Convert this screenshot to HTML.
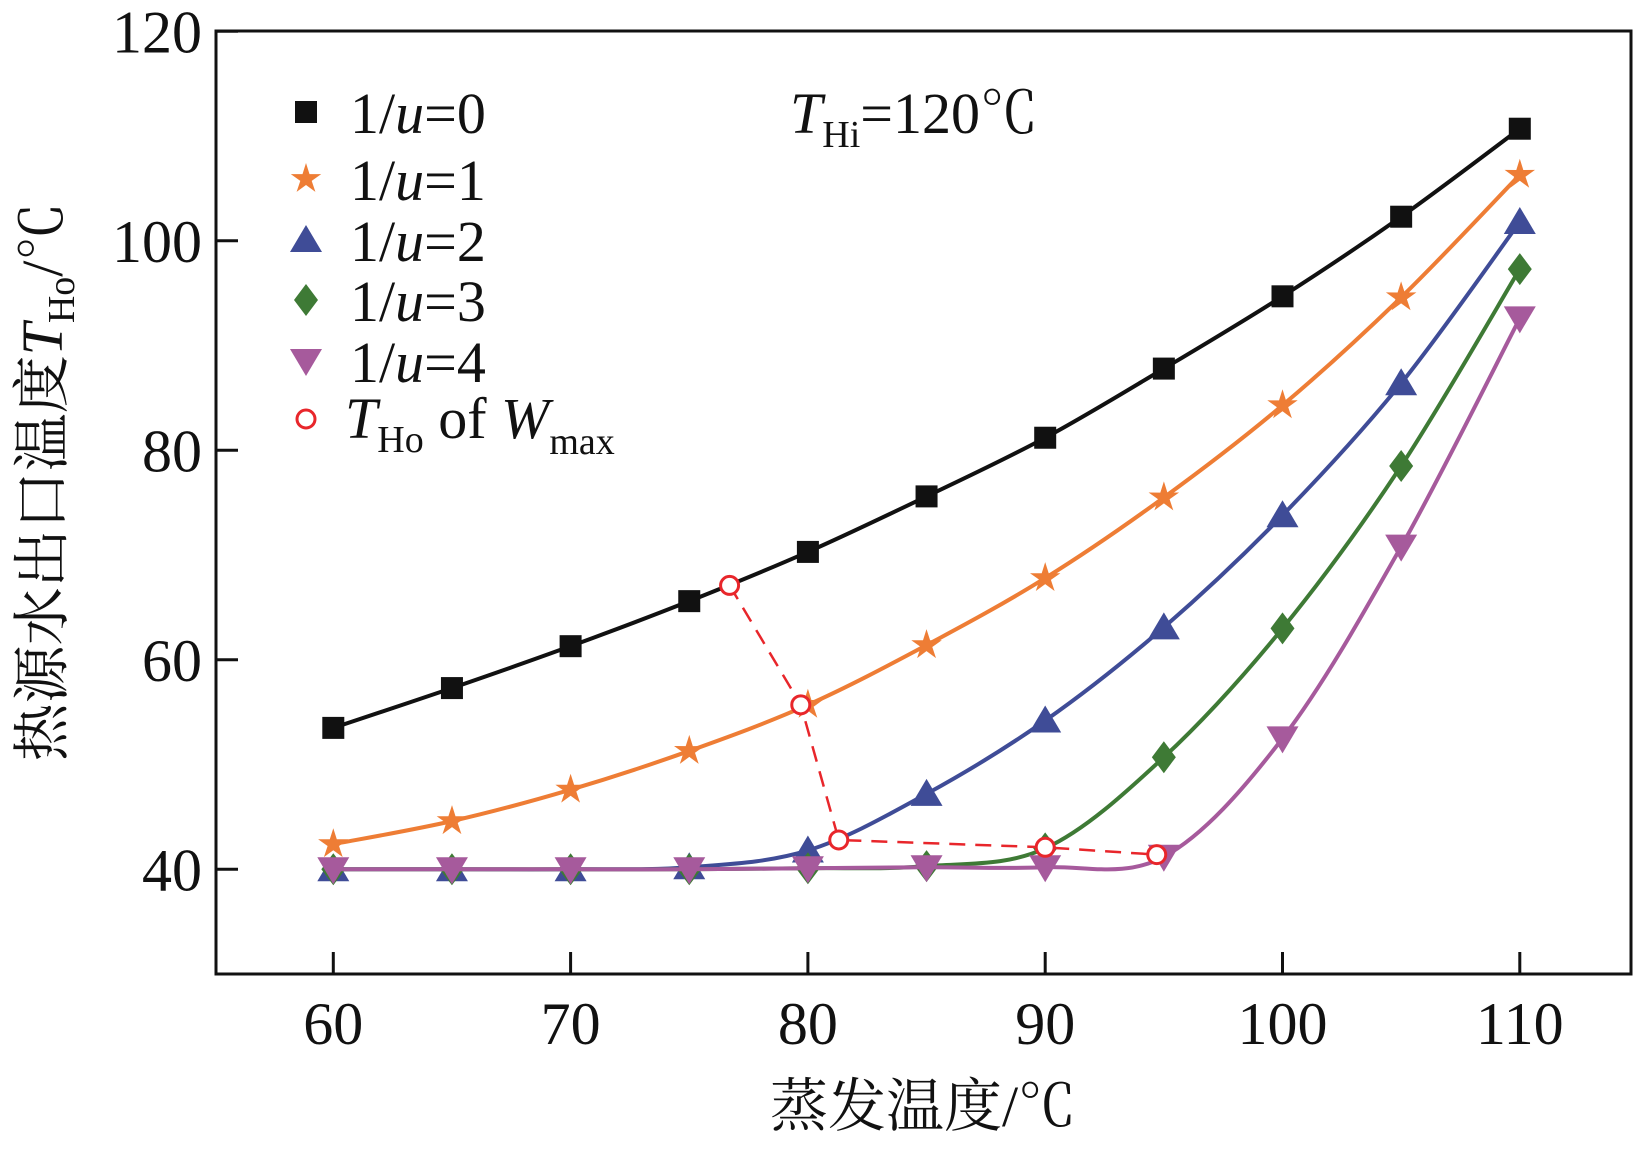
<!DOCTYPE html>
<html><head><meta charset="utf-8"><style>
body{margin:0;background:#fff}
svg text{font-family:"Liberation Serif","Noto Serif CJK SC",serif;fill:#111}
</style></head><body>
<svg id="c" width="1636" height="1146" viewBox="0 0 1636 1146"></svg>
<script>
const xs=[60,65,70,75,80,85,90,95,100,105,110];
const s0=[53.5,57.3,61.3,65.6,70.3,75.6,81.2,87.8,94.7,102.3,110.7];
const s1=[42.4,44.6,47.6,51.3,55.7,61.4,67.8,75.5,84.3,94.6,106.3];
const s2=[40,40,40,40.2,41.8,47.2,54.2,63.1,73.8,86.4,101.8];
const s3=[40,40,40,40,40.1,40.3,42,50.7,63,78.5,97.3];
const s4=[40,40,40,40,40.1,40.2,40.2,41.2,52.5,70.8,92.6];
const maxX=[76.7,79.7,81.3,90,94.7];
const maxY=[67.1,55.7,42.8,42.1,41.4];
const xTicks=[60,70,80,90,100,110];
const yTicks=[40,60,80,100,120];
const NS='http://www.w3.org/2000/svg';
const svg=document.getElementById('c');
const L=216,T=31,R=1631,B=974;
const X=v=>333.3+(v-60)*23.73;
const Y=v=>869.3-(v-40)*10.475;
function el(t,a,p){const e=document.createElementNS(NS,t);for(const k in a)e.setAttribute(k,a[k]);(p||svg).appendChild(e);return e;}
const frame=el('rect',{x:L,y:T,width:R-L,height:B-T,fill:'none',stroke:'#111','stroke-width':3});


xTicks.forEach(v=>{
 const t=el('line',{x1:X(v),x2:X(v),y1:B,y2:B-22,stroke:'#111','stroke-width':3});
 
 
 const l=el('text',{x:X(v),y:1044,'text-anchor':'middle','font-size':60});l.textContent=v;
 
 
});
yTicks.forEach(v=>{
 const t=el('line',{x1:L,x2:L+22,y1:Y(v),y2:Y(v),stroke:'#111','stroke-width':3});
 
 
 const l=el('text',{x:202,y:Y(v)+21,'text-anchor':'end','font-size':60});l.textContent=v;
 
 
});
function spline(px,py){
 const P=px.map((x,i)=>[X(x),Y(py[i])]);
 let d='M'+P[0][0]+','+P[0][1];
 for(let i=0;i<P.length-1;i++){
  const p0=P[Math.max(i-1,0)],p1=P[i],p2=P[i+1],p3=P[Math.min(i+2,P.length-1)];
  d+=' C'+(p1[0]+(p2[0]-p0[0])/6)+','+(p1[1]+(p2[1]-p0[1])/6)+' '+(p2[0]-(p3[0]-p1[0])/6)+','+(p2[1]-(p3[1]-p1[1])/6)+' '+p2[0]+','+p2[1];
 }
 return d;
}
function marker(type,cx,cy,col,g){
 let e;
 if(type==='sq')e=el('rect',{x:cx-11,y:cy-11,width:22,height:22,fill:col},g);
 else if(type==='star'){let pts=[];for(let k=0;k<10;k++){const r=k%2?6:16,a=-Math.PI/2+k*Math.PI/5;pts.push((cx+r*Math.cos(a)).toFixed(1)+','+(cy+r*Math.sin(a)).toFixed(1));}e=el('polygon',{points:pts.join(' '),fill:col},g);}
 else if(type==='up')e=el('polygon',{points:`${cx},${cy-15} ${cx+16},${cy+12} ${cx-16},${cy+12}`,fill:col},g);
 else if(type==='dia')e=el('polygon',{points:`${cx},${cy-16} ${cx+12},${cy} ${cx},${cy+16} ${cx-12},${cy}`,fill:col},g);
 else if(type==='down')e=el('polygon',{points:`${cx-16},${cy-12} ${cx+16},${cy-12} ${cx},${cy+15}`,fill:col},g);
 else if(type==='circ')e=el('circle',{cx:cx,cy:cy,r:9,fill:'#fff',stroke:col,'stroke-width':3},g);
 return e;
}
const series=[[s0,'#111','sq'],[s1,'#ee7d35','star'],[s2,'#3f4c97','up'],[s3,'#3e7a35','dia'],[s4,'#a65a9c','down']];
series.forEach(([d,col,m],i)=>{
 const g=el('g',{});
 
 
 const p=el('path',{d:spline(xs,d),fill:'none',stroke:col,'stroke-width':4},g);
 
 
 xs.forEach((x,j)=>{const mk=marker(m,X(x),Y(d[j]),col,g);
  
  });
});
const gm=el('g',{});


let dd='M'+X(maxX[0])+','+Y(maxY[0]);
for(let j=1;j<maxX.length;j++)dd+=' L'+X(maxX[j])+','+Y(maxY[j]);
const dp=el('path',{d:dd,fill:'none',stroke:'#e8262b','stroke-width':2.5,'stroke-dasharray':'16,10'},gm);


maxX.forEach((x,j)=>{const c=marker('circ',X(x),Y(maxY[j]),'#e8262b',gm);
 
 });
const lg=el('g',{});


const ly=[112,179,240,300,361];
series.forEach(([d,col,m],i)=>{
 const mk=marker(m,306,ly[i],col,lg);
 
 
 const t=el('text',{x:350,y:ly[i]+21,'font-size':58},lg);
 t.innerHTML='1/<tspan font-style="italic">u</tspan>='+i;
 
 
});
const mc=marker('circ',306,419,'#e8262b',lg);


const t5=el('text',{x:345,y:438,'font-size':58},lg);
t5.innerHTML='<tspan font-style="italic">T</tspan><tspan font-size="38" dy="14">Ho</tspan><tspan dy="-14"> of </tspan><tspan font-style="italic">W</tspan><tspan font-size="38" dy="16">max</tspan>';


const th=el('text',{x:790,y:133,'font-size':58});
th.innerHTML='<tspan font-style="italic">T</tspan><tspan font-size="38" dy="14">Hi</tspan><tspan dy="-14">=120℃</tspan>';


const xt=el('text',{x:923,y:1126,'text-anchor':'middle','font-size':58});
xt.textContent='蒸发温度/℃';


const yt=el('text',{x:0,y:0,'text-anchor':'middle','font-size':58,transform:'translate(62,482) rotate(-90)'});
yt.innerHTML='热源水出口温度<tspan font-style="italic">T</tspan><tspan font-size="38" dy="12">Ho</tspan><tspan dy="-12">/℃</tspan>';


</script>
</body></html>
